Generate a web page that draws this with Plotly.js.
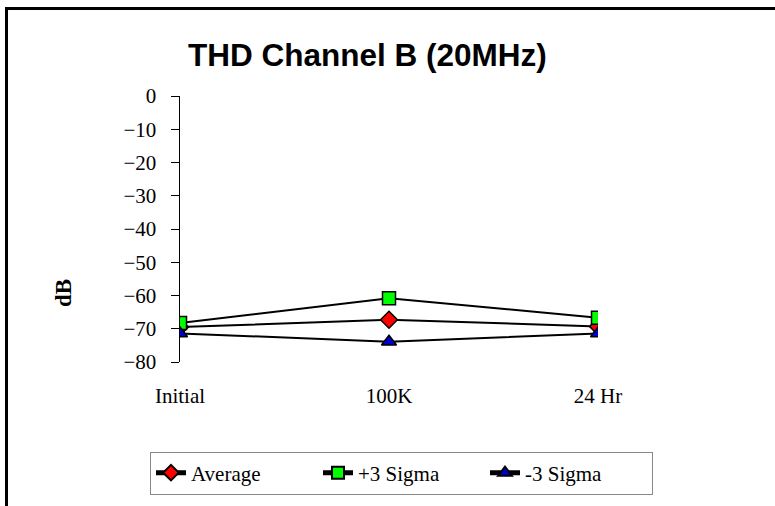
<!DOCTYPE html>
<html>
<head>
<meta charset="utf-8">
<script src="https://cdn.plot.ly/plotly-3.0.1.min.js"></script>
<style>
  html, body { margin: 0; padding: 0; width: 775px; height: 506px; overflow: hidden; background: #fff; }
  #chart { position: absolute; left: 0; top: 0; width: 775px; height: 506px; }
  #frame { position: absolute; left: 5px; top: 7px; width: 900px; height: 700px; border: 3px solid #000; pointer-events: none; }
</style>
</head>
<body>
<div id="chart"></div>
<div id="frame"></div>
<script>
const categories = ["Initial", "100K", "24 Hr"];
const averageValues = [-69.5, -67.3, -69.3];
const plus3SigmaValues = [-68.3, -60.8, -66.7];
const minus3SigmaValues = [-71.4, -73.9, -71.4];
const yTickValues = [0, -10, -20, -30, -40, -50, -60, -70, -80];

const serif = "Liberation Serif";
const sans = "Liberation Sans";

function series(name, values, symbol, color) {
  return {
    type: "scatter", mode: "lines+markers", name: name,
    x: categories, y: values,
    line: { color: "#000", width: 2 },
    marker: { symbol: symbol, size: 13, color: color, line: { color: "#000", width: 1.5 } }
  };
}

const data = [
  series("Average", averageValues, "diamond", "#ff0000"),
  series("+3 Sigma", plus3SigmaValues, "square", "#00ff00"),
  series("-3 Sigma", minus3SigmaValues, "triangle-up", "#0000cc")
];

const layout = {
  width: 775, height: 506,
  margin: { l: 180, r: 177, t: 96, b: 144 },
  paper_bgcolor: "#fff", plot_bgcolor: "rgba(0,0,0,0)",
  showlegend: true,
  title: {
    text: "<b>THD Channel B (20MHz)</b>",
    font: { family: sans, size: 31.5, color: "#000" },
    xref: "container", x: 0.474, xanchor: "center",
    yref: "container", y: 0.891, yanchor: "middle"
  },
  xaxis: {
    type: "category", categoryarray: categories, range: [0, 2],
    showline: false, showgrid: false, zeroline: false, ticks: "",
    ticklabelstandoff: 19,
    tickfont: { family: serif, size: 21, color: "#000" }
  },
  xaxis2: {
    overlaying: "x", anchor: "y", side: "top", type: "linear", range: [0, 2],
    tickvals: [0, 1, 2], showticklabels: false, showgrid: false, zeroline: false,
    showline: true, linecolor: "#000", linewidth: 1.5,
    ticks: "outside", ticklen: 6, tickcolor: "#000", tickwidth: 1
  },
  xaxis3: {
    overlaying: "x", anchor: "y", side: "top", type: "linear", range: [0, 2],
    tickvals: [0, 1, 2], showticklabels: false, showgrid: false, zeroline: false,
    showline: false, ticks: "inside", ticklen: 6, tickcolor: "#000", tickwidth: 1
  },
  yaxis: {
    range: [-80, 0], tickvals: yTickValues, showgrid: false, zeroline: false,
    showline: true, linecolor: "#000", linewidth: 1.5,
    ticks: "outside", ticklen: 8, tickcolor: "#000", tickwidth: 1,
    ticklabelstandoff: 10,
    tickfont: { family: serif, size: 21, color: "#000" }
  },
  yaxis2: {
    overlaying: "y", anchor: "x", side: "left", range: [-80, 0], tickvals: yTickValues,
    showticklabels: false, showgrid: false, zeroline: false, showline: false,
    ticks: "inside", ticklen: 6, tickcolor: "#000", tickwidth: 1
  },
  legend: {
    orientation: "h",
    xref: "paper", x: (150 - 180) / 418, xanchor: "left",
    yref: "paper", y: (362 - 451.5) / 266, yanchor: "top",
    bordercolor: "#888", borderwidth: 1, bgcolor: "#fff",
    font: { family: serif, size: 21, color: "#000" },
    entrywidth: 122, itemsizing: "constant"
  },
  annotations: [{
    text: "<b>dB</b>", textangle: -90, showarrow: false,
    xref: "paper", yref: "paper",
    x: (63 - 180) / 418, y: (362 - 293) / 266,
    xanchor: "center", yanchor: "middle",
    font: { family: serif, size: 23, color: "#000" }
  }]
};

Plotly.newPlot("chart", data, layout, { displayModeBar: false, staticPlot: true });
</script>
</body>
</html>
